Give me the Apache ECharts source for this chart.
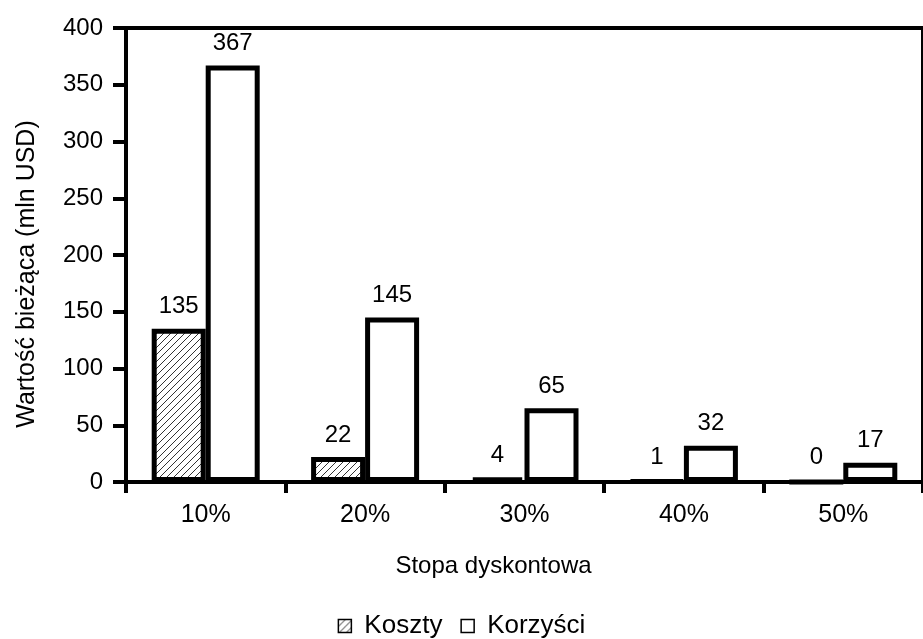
<!DOCTYPE html>
<html>
<head>
<meta charset="utf-8">
<script src="https://cdn.jsdelivr.net/npm/echarts@6/dist/echarts.min.js"></script>
<style>
  html, body { margin: 0; padding: 0; background: #fff; }
  #chart { width: 923px; height: 639px; }
</style>
</head>
<body>
<div id="chart"></div>
<script>
// Discount rates and present values (mln USD)
const categories = ['10%', '20%', '30%', '40%', '50%'];
const koszty = [135, 22, 4, 1, 0];
const korzysci = [367, 145, 65, 32, 17];

const FONT = '"Liberation Sans", Arial, sans-serif';

// Diagonal hatch fill for the cost bars
function hatchPattern() {
  const c = document.createElement('canvas');
  const p = 7;
  c.width = p; c.height = p;
  const ctx = c.getContext('2d');
  ctx.fillStyle = '#fff';
  ctx.fillRect(0, 0, p, p);
  ctx.strokeStyle = '#333';
  ctx.lineWidth = 1;
  ctx.beginPath();
  ctx.moveTo(-1, p + 1); ctx.lineTo(p + 1, -1);
  ctx.moveTo(-1, 1); ctx.lineTo(1, -1);
  ctx.moveTo(p - 1, p + 1); ctx.lineTo(p + 1, p - 1);
  ctx.stroke();
  return { image: c, repeat: 'repeat' };
}

const chart = echarts.init(document.getElementById('chart'), null, { renderer: 'canvas' });

const labelStyle = {
  show: true,
  position: 'top',
  distance: 10,
  color: '#000',
  fontSize: 24,
  fontFamily: FONT
};

chart.setOption({
  animation: false,
  backgroundColor: '#fff',
  textStyle: { fontFamily: FONT, color: '#000' },
  grid: {
    left: 126,
    top: 28,
    width: 804,
    height: 454,
    show: true,
    borderColor: '#000',
    borderWidth: 4,
    backgroundColor: 'transparent'
  },
  legend: {
    left: 'center',
    top: 613,
    padding: 0,
    itemWidth: 13,
    itemHeight: 13,
    itemGap: 18,
    icon: 'rect',
    textStyle: { fontSize: 26, fontFamily: FONT, color: '#000', padding: [0, 0, 0, 8] },
    itemStyle: { borderWidth: 1.5, borderColor: '#000' },
    data: ['Koszty', 'Korzyści']
  },
  xAxis: {
    type: 'category',
    data: categories,
    name: 'Stopa dyskontowa',
    nameLocation: 'middle',
    nameGap: 72,
    nameTextStyle: { fontSize: 24, fontFamily: FONT, color: '#000', padding: [0, 62, 0, 0] },
    axisLine: { lineStyle: { color: '#000', width: 4 } },
    axisTick: { show: true, length: 11, lineStyle: { color: '#000', width: 4 } },
    axisLabel: { fontSize: 25, fontFamily: FONT, color: '#000', margin: 21 },
    splitLine: { show: false }
  },
  yAxis: {
    type: 'value',
    min: 0,
    max: 400,
    interval: 50,
    name: 'Wartość bieżąca (mln USD)',
    nameLocation: 'middle',
    nameRotate: 90,
    nameGap: 86,
    nameTextStyle: { fontSize: 25, fontFamily: FONT, color: '#000', padding: [0, 38, 0, 0] },
    axisLine: { show: true, lineStyle: { color: '#000', width: 4 } },
    axisTick: { show: true, length: 13, lineStyle: { color: '#000', width: 4 } },
    axisLabel: { fontSize: 24, fontFamily: FONT, color: '#000', margin: 23 },
    splitLine: { show: false }
  },
  series: [
    {
      name: 'Koszty',
      type: 'bar',
      data: koszty,
      barWidth: 54,
      barGap: '0%',
      itemStyle: { color: hatchPattern(), borderColor: '#000', borderWidth: 5 },
      label: labelStyle
    },
    {
      name: 'Korzyści',
      type: 'bar',
      data: korzysci,
      barWidth: 54,
      barGap: '0%',
      itemStyle: { color: '#fff', borderColor: '#000', borderWidth: 5 },
      label: labelStyle
    }
  ]
});
</script>
</body>
</html>
